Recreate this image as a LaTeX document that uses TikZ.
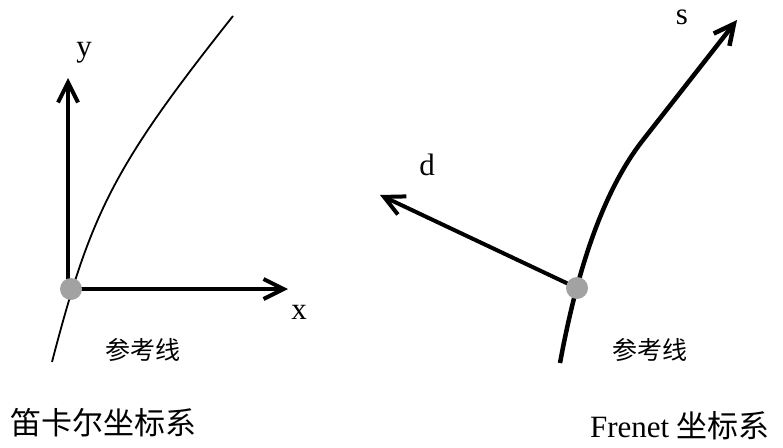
\documentclass[tikz,border=0pt]{standalone}
\usepackage{fontspec}
\setmainfont{Liberation Serif}
\newfontfamily\cjk{Noto Sans CJK SC}
\usetikzlibrary{arrows.meta}
\definecolor{dotgray}{RGB}{162,162,162}
\tikzset{
  axisarrow/.style={line width=4pt, -{Straight Barb[length=20pt,width=20pt]}},
  thincurve/.style={line width=1.8pt},
  thickcurve/.style={line width=4.5pt},
  dotnode/.style={circle, fill=dotgray, minimum size=22pt, inner sep=0pt},
  axlabel/.style={font=\fontsize{31}{31}\selectfont, inner sep=0pt},
  reflabel/.style={font=\cjk\fontsize{25}{25}\selectfont, inner sep=0pt},
  titlelabel/.style={font=\fontsize{31}{31}\selectfont, inner sep=0pt},
}
\begin{document}
\begin{tikzpicture}[x=1pt,y=-1pt]
\useasboundingbox (0,0) rectangle (783,447);
% ---------- Cartesian ----------
\coordinate (o1) at (71,289);
\coordinate (ytip) at (68,78);
\coordinate (xtip) at (288,289);
\coordinate (c1s) at (52,362);
\coordinate (c1e) at (233,16);
\draw[thincurve] (c1s) .. controls (91,212) and (114,166) .. (c1e);
\draw[axisarrow] (68,289) -- (ytip);
\draw[axisarrow] (o1) -- (xtip);
\node[dotnode] (dot1) at (o1) {};
\node[axlabel] (ylab) at (84,53) {y};
\node[axlabel] (xlab) at (299,312) {x};
\node[reflabel] (ref1) at (143,350) {参考线};
\node[titlelabel] (title1) at (103,423) {\cjk 笛卡尔坐标系};
% ---------- Frenet ----------
\coordinate (o2) at (577,288);
\coordinate (stip) at (737,20);
\coordinate (dtip) at (380,195);
\coordinate (c2s) at (560,363);
\coordinate (c2m) at (643,140);
\draw[thickcurve, -{Straight Barb[length=20pt,width=20pt]}] (c2s) .. controls (573,293) and (596,200) .. (c2m) -- (stip);
\draw[axisarrow] (o2) -- (dtip);
\node[dotnode] (dot2) at (o2) {};
\node[axlabel] (dlab) at (427,165) {d};
\node[axlabel] (slab) at (682,17) {s};
\node[reflabel] (ref2) at (650,350) {参考线};
\node[titlelabel] (title2) at (680,426) {Frenet {\cjk 坐标系}};
\end{tikzpicture}
\end{document}
